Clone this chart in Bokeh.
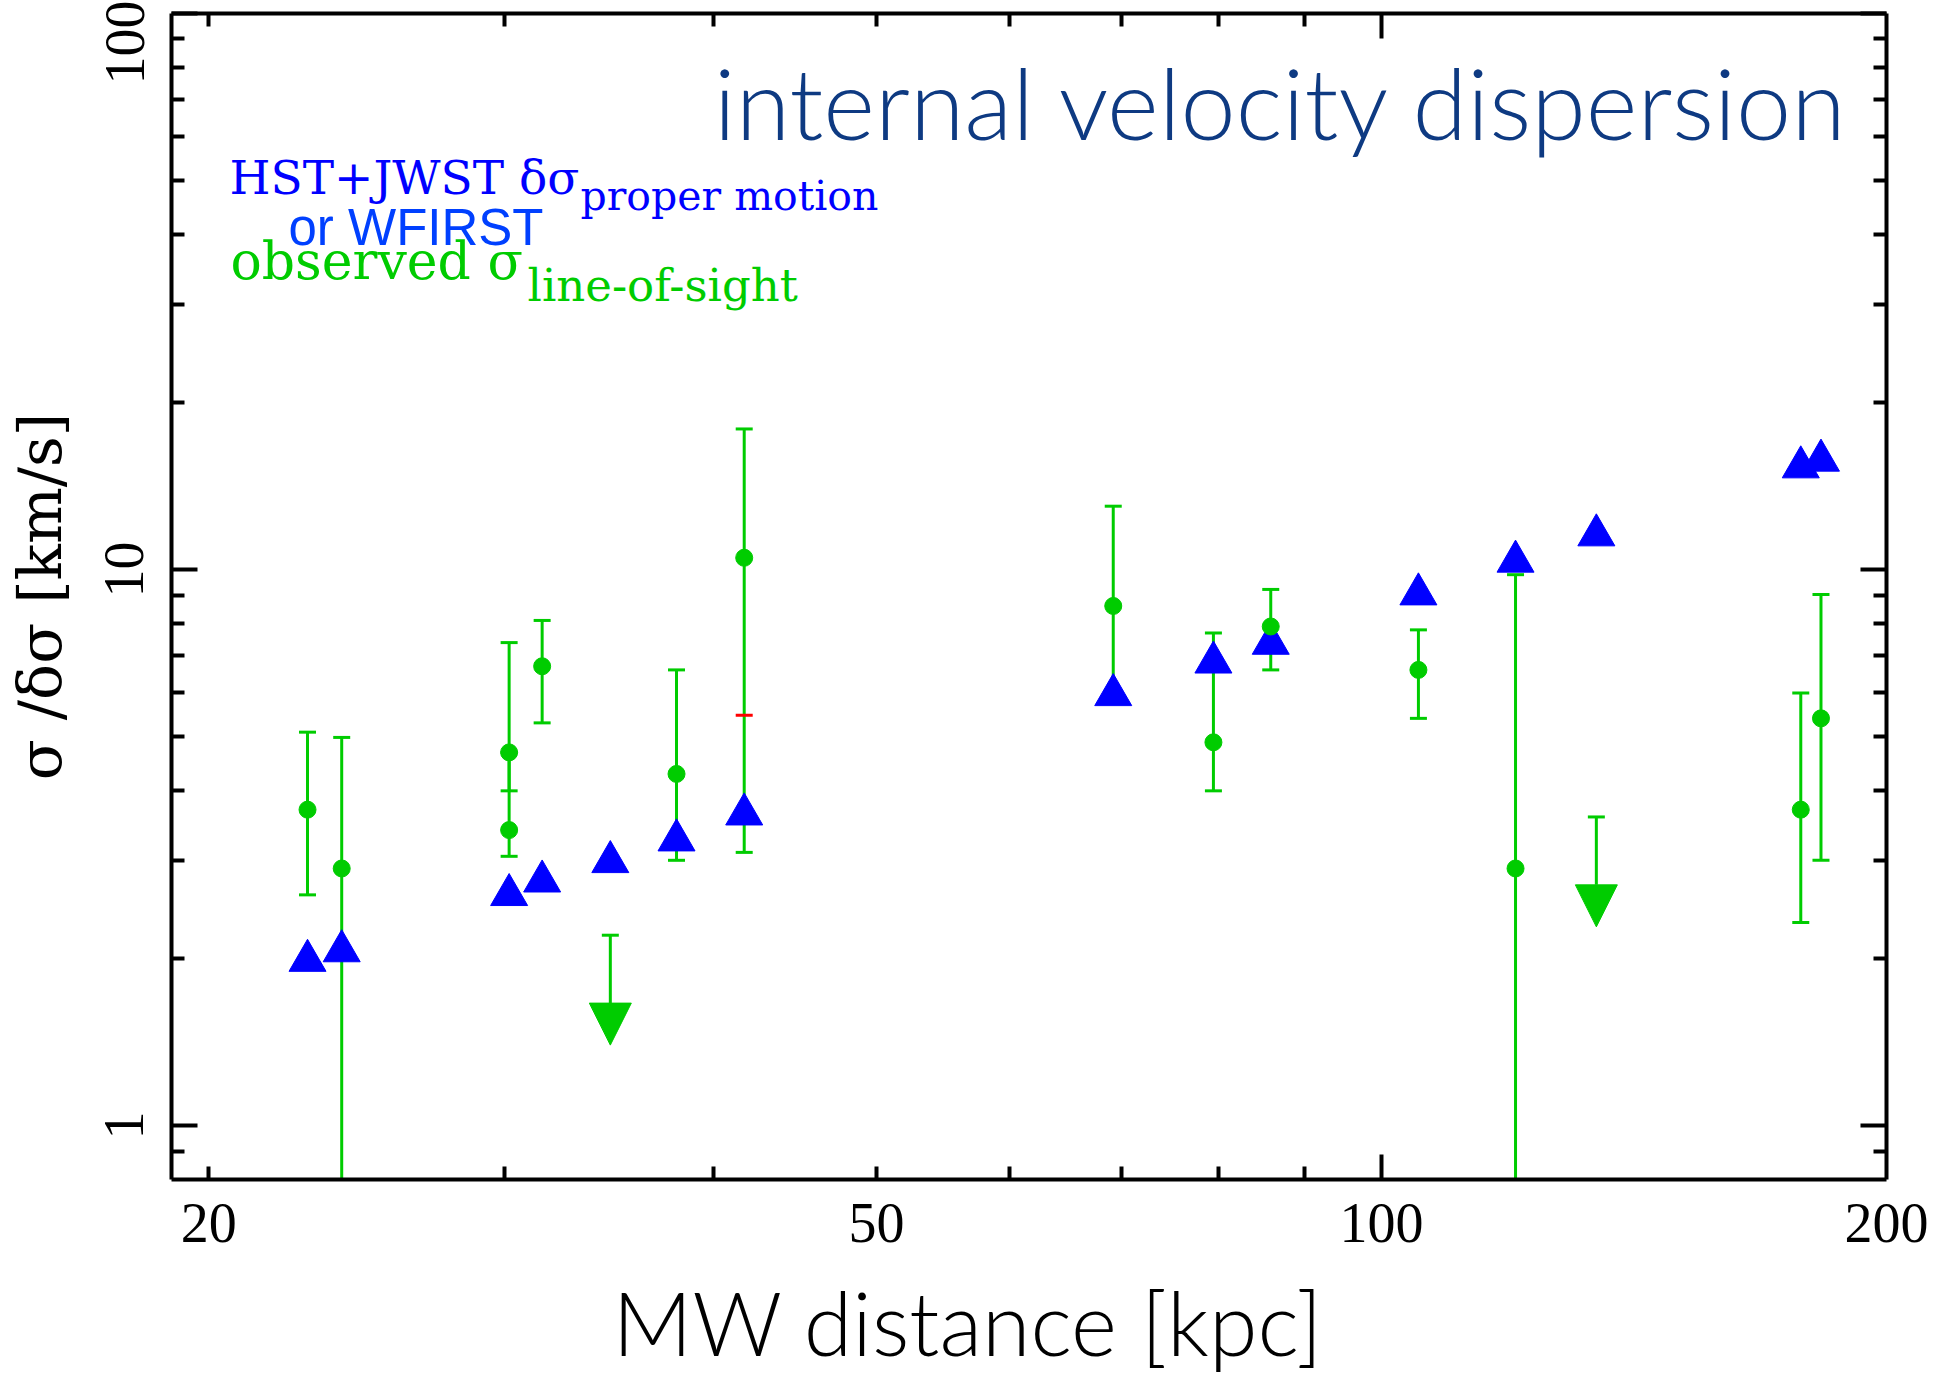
import math
from bokeh.plotting import figure
from bokeh.models import (ColumnDataSource, Whisker, TeeHead, Arrow, NormalHead, Label, Title,
                          LogAxis, FixedTicker, Range1d, PrintfTickFormatter)
from bokeh.embed import file_html
from bokeh.resources import INLINE

# ---------------- data ----------------
# observed line-of-sight dispersion (green points with error bars)
los_distance = [22.9, 24.0, 30.2, 30.2, 31.6, 38.0, 41.7, 69.2, 79.4, 85.9, 105.2, 120.2, 177.8, 182.8]
los_sigma    = [3.70, 2.90, 4.69, 3.40, 6.70, 4.29, 10.5, 8.60, 4.89, 7.90, 6.60, 2.90, 3.70, 5.40]
los_upper    = [5.10, 4.99, 7.39, 4.69, 8.10, 6.60, 17.9, 13.0, 7.69, 9.21, 7.79, 9.79, 6.00, 9.02]
los_lower    = [2.60, 0.80, 4.00, 3.05, 5.30, 3.00, 3.10, 5.90, 4.00, 6.60, 5.40, 0.80, 2.32, 3.00]

# upper limits on the line-of-sight dispersion (green arrows)
limit_distance = [34.7, 134.3]
limit_sigma    = [2.20, 3.59]

# red mark
red_distance = [41.7]
red_sigma    = [5.47]

# proper-motion dispersion precision (blue triangles)
pm_distance = [22.9, 24.0, 30.2, 31.6, 34.7, 38.0, 41.7, 69.2, 79.4, 85.9, 105.2, 120.2, 134.3, 177.8, 182.8]
pm_dsigma   = [1.98, 2.06, 2.60, 2.75, 2.98, 3.26, 3.63, 5.95, 6.81, 7.36, 9.03, 10.34, 11.53, 15.28, 15.71]

# axes
X_MIN, X_MAX = 19.0, 200.0
Y_MIN, Y_MAX = 0.8, 100.0
x_label_ticks = [20, 50, 100, 200]
x_long_ticks = [100]
x_minor_ticks = [20, 30, 40, 50, 60, 70, 80, 90]
y_major_ticks = [1, 10, 100]
y_minor_ticks = [0.9, 2, 3, 4, 5, 6, 7, 8, 9, 20, 30, 40, 50, 60, 70, 80, 90]

# ---------------- style / layout ----------------
GREEN = "#00cc00"
BLUE = "#0000ff"
NAVY = "#0e3a82"
WF_BLUE = "#0040ff"
SERIF = "DejaVu Serif"

W, H = 1937, 1374
B_LEFT, B_RIGHT, B_TOP, B_BOTTOM = 171, 51, 13, 194
FRAME_W = W - B_LEFT - B_RIGHT
FRAME_H = H - B_TOP - B_BOTTOM
FL = B_LEFT
FT = B_TOP
LX0, LX1 = math.log10(X_MIN), math.log10(X_MAX)
LY0, LY1 = math.log10(Y_MIN), math.log10(Y_MAX)
DECADE_Y = FRAME_H / (LY1 - LY0)


def xdata(px):
    return 10 ** (LX0 + (px - FL) / FRAME_W * (LX1 - LX0))


def ydata(py):
    return 10 ** (LY1 - (py - FT) / FRAME_H * (LY1 - LY0))


ARROW_PX = 110
arrow_factor = 10 ** (ARROW_PX / DECADE_Y)

p = figure(width=W, height=H, x_axis_type="log", y_axis_type="log",
           x_range=Range1d(X_MIN, X_MAX), y_range=Range1d(Y_MIN, Y_MAX),
           output_backend="svg", toolbar_location=None,
           min_border_left=B_LEFT, min_border_right=B_RIGHT,
           min_border_top=B_TOP, min_border_bottom=B_BOTTOM)
p.xgrid.visible = False
p.ygrid.visible = False
p.outline_line_color = None
p.background_fill_color = "white"
p.border_fill_color = "white"


def style_ticks(ax, major_len, minor_len):
    ax.axis_line_color = "black"
    ax.axis_line_width = 4
    ax.major_tick_in = major_len
    ax.major_tick_out = 0
    ax.minor_tick_in = minor_len
    ax.minor_tick_out = 0
    ax.major_tick_line_color = "black"
    ax.major_tick_line_width = 4
    ax.minor_tick_line_color = "black"
    ax.minor_tick_line_width = 4


def hide_labels(ax, ticks):
    ax.major_label_overrides = {t: "" for t in ticks}
    ax.major_label_text_font_size = "1px"
    ax.major_label_standoff = 0


TICK_FONT = "Liberation Serif"
TICK_SIZE = "56px"

# bottom: tick axis (long tick at 100 only)
bx = p.below[0]
bx.ticker = FixedTicker(ticks=x_long_ticks, minor_ticks=x_minor_ticks)
style_ticks(bx, 25, 13)
hide_labels(bx, x_long_ticks)

# bottom: label axis
lx = LogAxis(ticker=FixedTicker(ticks=x_label_ticks, minor_ticks=[]),
             formatter=PrintfTickFormatter(format="%d"))
lx.axis_line_color = None
lx.major_tick_line_color = None
lx.minor_tick_line_color = None
lx.major_tick_in = 0
lx.major_tick_out = 0
lx.minor_tick_in = 0
lx.minor_tick_out = 0
lx.major_label_standoff = 24
lx.major_label_text_font = TICK_FONT
lx.major_label_text_font_size = TICK_SIZE
lx.major_label_text_color = "black"
p.add_layout(lx, "below")

# bottom: small blank spacer between the tick labels and the axis title
spacer = Title(text="\u00a0", text_font_size="2px", standoff=18, text_color="white")
p.add_layout(spacer, "below")

# x axis title
xt = Title(text="MW distance [kpc]", align="left", offset=441, standoff=0,
           text_font="Lato Light", text_font_size="88px", text_font_style="normal",
           text_color="black")
p.add_layout(xt, "below")

# top
tx = LogAxis(ticker=FixedTicker(ticks=x_long_ticks, minor_ticks=x_minor_ticks))
style_ticks(tx, 25, 13)
hide_labels(tx, x_long_ticks)
p.add_layout(tx, "above")

# left
ly = p.left[0]
ly.ticker = FixedTicker(ticks=y_major_ticks, minor_ticks=y_minor_ticks)
ly.formatter = PrintfTickFormatter(format="%d")
style_ticks(ly, 26, 13)
ly.major_label_orientation = "parallel"
ly.major_label_standoff = 28
ly.major_label_text_font = TICK_FONT
ly.major_label_text_font_size = TICK_SIZE
ly.major_label_text_color = "black"
ly.axis_label = "σ /δσ [km/s]"
ly.axis_label_text_font = SERIF
ly.axis_label_text_font_size = "60px"
ly.axis_label_text_font_style = "normal"
ly.axis_label_text_color = "black"
ly.axis_label_standoff = 28

# right
ry = LogAxis(ticker=FixedTicker(ticks=y_major_ticks, minor_ticks=y_minor_ticks))
style_ticks(ry, 26, 13)
hide_labels(ry, y_major_ticks)
p.add_layout(ry, "right")

# ---------------- data marks ----------------
pm_src = ColumnDataSource(dict(x=pm_distance, y=pm_dsigma))
p.scatter("x", "y", source=pm_src, marker="triangle", size=37,
          fill_color=BLUE, line_color=BLUE, line_width=1)

los_src = ColumnDataSource(dict(x=los_distance, y=los_sigma, upper=los_upper, lower=los_lower))
p.scatter("x", "y", source=los_src, marker="circle", size=17,
          fill_color=GREEN, line_color=GREEN, line_width=1)

red_src = ColumnDataSource(dict(x=red_distance, y=red_sigma))
p.scatter("x", "y", source=red_src, marker="dash", size=17, line_color="red", line_width=3)

whisk = Whisker(source=los_src, base="x", upper="upper", lower="lower", dimension="height",
                line_color=GREEN, line_width=3,
                upper_head=TeeHead(size=17, line_color=GREEN, line_width=3),
                lower_head=TeeHead(size=17, line_color=GREEN, line_width=3))
p.add_layout(whisk)

lim_src = ColumnDataSource(dict(x=limit_distance, y0=limit_sigma,
                                y1=[v / arrow_factor for v in limit_sigma]))
p.scatter("x", "y0", source=lim_src, marker="dash", size=17, line_color=GREEN, line_width=3)
p.add_layout(Arrow(source=lim_src, x_start="x", y_start="y0", x_end="x", y_end="y1",
                   line_color=GREEN, line_width=3,
                   end=NormalHead(size=42, fill_color=GREEN, line_color=GREEN, line_width=1)))

# ---------------- texts inside the frame ----------------
def add_label(text, px, py, font, size, color, align="left"):
    p.add_layout(Label(x=xdata(px), y=ydata(py), text=text, text_font=font,
                       text_font_size=size, text_color=color, text_align=align,
                       text_baseline="alphabetic", text_font_style="normal"))


add_label("internal velocity dispersion", 1850, 101, "Lato Light", "99px", NAVY, align="right")
add_label("HST+JWST δσ", 229, 177, SERIF, "47px", BLUE)
add_label("proper motion", 580, 196, SERIF, "41px", BLUE)
add_label("or WFIRST", 288, 227, "Liberation Sans", "51px", WF_BLUE)
add_label("observed σ", 230, 261, SERIF, "52px", GREEN)
add_label("line-of-sight", 527, 285, SERIF, "45px", GREEN)

open("out.html", "w").write(file_html(p, INLINE))
